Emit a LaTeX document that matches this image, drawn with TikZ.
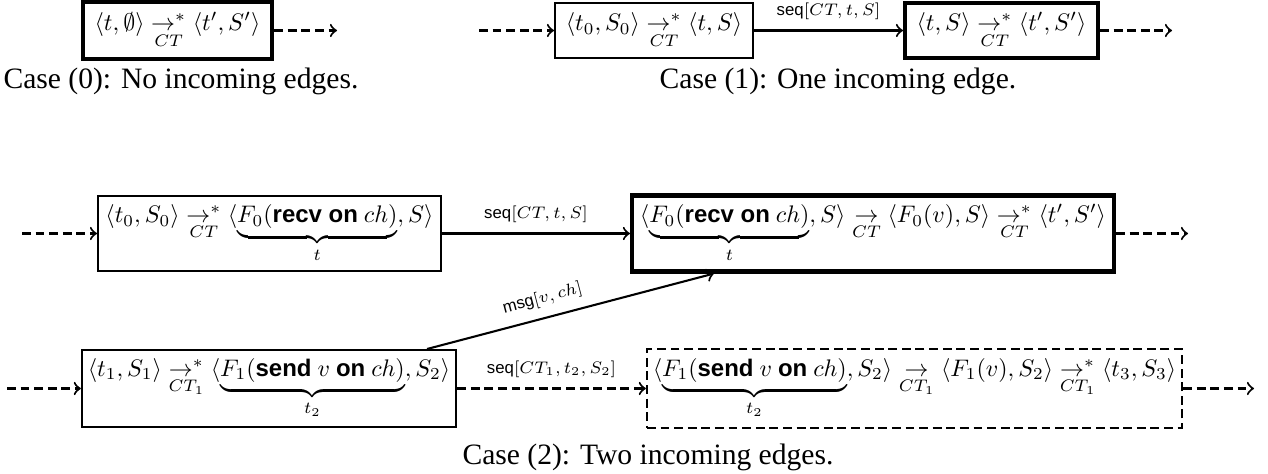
\documentclass[tikz,border=0pt]{standalone}
\usepackage{amsmath}
\usepackage{amssymb}
\usepackage{graphicx}
\usepackage[no-math]{fontspec}
\setmainfont{Liberation Serif}
\setsansfont{Liberation Sans}
\usetikzlibrary{calc}

\newcommand{\cstep}[1]{\mathrel{\underset{#1}{\rightarrow}}}
\newcommand{\cstepstar}[1]{\mathrel{\underset{#1}{\rightarrow^{*}}}}
\newcommand{\kw}[1]{\textsf{\textbf{#1}}}
\newcommand{\stepexpr}[1]{\scalebox{0.81}{$#1$}}
\newcommand{\edgetext}[1]{\scalebox{0.81}{\scriptsize #1}}

\begin{document}
\begin{tikzpicture}[x=0.338pt, y=-0.338pt,
    stepbox/.style={draw, line width=0.7pt, inner sep=2pt},
    lastbox/.style={stepbox, line width=1.4pt},
    ghostbox/.style={stepbox, dash pattern=on 3pt off 1.6pt},
    flow/.style={->, line width=0.7pt},
    dflow/.style={flow, dash pattern=on 3pt off 1.6pt},
    casetext/.style={font=\normalsize}]
	\useasboundingbox (0,0) rectangle (1268,474);

	% Case 0 - no incoming edges
	\node[lastbox, minimum width=63.9pt, minimum height=19.3pt] (init) at (177.5,30.5) {\stepexpr{\langle t,\emptyset\rangle \cstepstar{CT} \langle t',S'\rangle}};
	\coordinate (initout) at (337,30.5);
	\draw[dflow] (init.east) -- (initout);
	\node[casetext] (case0) at (181,81) {Case (0): No incoming edges.};

	% Case 1 - one incoming edge
	\coordinate (predin) at (479,30.5);
	\node[stepbox, minimum width=66.9pt, minimum height=18.3pt] (pred) at (654,30.5) {\stepexpr{\langle t_0,S_0\rangle \cstepstar{CT} \langle t,S\rangle}};
	\node[lastbox, minimum width=65.2pt, minimum height=18.6pt] (succ) at (1001.5,30.5) {\stepexpr{\langle t,S\rangle \cstepstar{CT} \langle t',S'\rangle}};
	\coordinate (succout) at (1172,30.5);
	\draw[dflow] (predin) -- (pred.west);
	\draw[flow] (pred.east) -- node[above] {\edgetext{\textsf{seq}$[CT,t,S]$}} (succ.west);
	\draw[dflow] (succ.east) -- (succout);
	\node[casetext] (case1) at (838,81) {Case (1): One incoming edge.};

	% Case 2 - receiving thread
	\coordinate (recvin) at (22,233.5);
	\node[stepbox, minimum width=115.9pt, minimum height=25.4pt] (recvA) at (269.5,233.5) {\stepexpr{\langle t_0,S_0\rangle \cstepstar{CT} \langle\underbrace{F_0(\kw{recv on}\ ch)}_{t},S\rangle}};
	\node[lastbox, minimum width=162.9pt, minimum height=25.7pt] (recvB) at (873,233.5) {\stepexpr{\langle\underbrace{F_0(\kw{recv on}\ ch)}_{t},S\rangle \cstep{CT} \langle F_0(v),S\rangle \cstepstar{CT} \langle t',S'\rangle}};
	\coordinate (recvout) at (1188,233.5);
	\draw[dflow] (recvin) -- (recvA.west);
	\draw[flow] (recvA.east) -- node[above] {\edgetext{\textsf{seq}$[CT,t,S]$}} (recvB.west);
	\draw[dflow] (recvB.east) -- (recvout);

	% Case 2 - sending thread
	\coordinate (sendin) at (7,388.5);
	\node[stepbox, minimum width=125.7pt, minimum height=26pt] (sendA) at (269,388.5) {\stepexpr{\langle t_1,S_1\rangle \cstepstar{CT_1} \langle\underbrace{F_1(\kw{send}\ v\ \kw{on}\ ch)}_{t_2},S_2\rangle}};
	\node[ghostbox, minimum width=180.8pt, minimum height=26.4pt] (sendB) at (914.5,388.5) {\stepexpr{\langle\underbrace{F_1(\kw{send}\ v\ \kw{on}\ ch)}_{t_2},S_2\rangle \cstep{CT_1} \langle F_1(v),S_2\rangle \cstepstar{CT_1} \langle t_3,S_3\rangle}};
	\coordinate (sendout) at (1254,388.5);
	\draw[dflow] (sendin) -- (sendA.west);
	\draw[dflow] (sendA.east) -- node[above] {\edgetext{\textsf{seq}$[CT_1,t_2,S_2]$}} (sendB.west);
	\draw[dflow] (sendB.east) -- (sendout);

	% Message edge
	\draw[flow] ($(sendA.north)!0.84!(sendA.north east)$) -- node[sloped, above, pos=0.42] {\edgetext{\textsf{msg}$[v,ch]$}} ($(recvB.south)!0.655!(recvB.south west)$);
	\node[casetext] (case2) at (648,457) {Case (2): Two incoming edges.};
\end{tikzpicture}
\end{document}
